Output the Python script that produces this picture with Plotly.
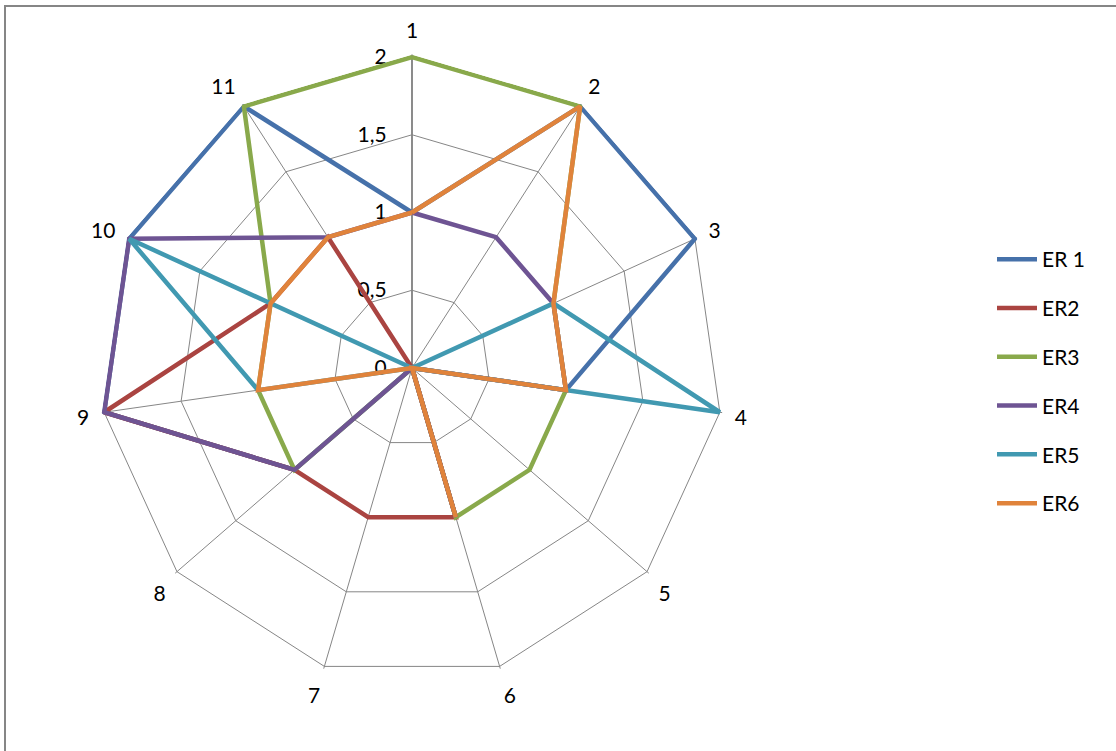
import plotly.graph_objects as go

categories = ["1", "2", "3", "4", "5", "6", "7", "8", "9", "10", "11"]
series_names = ["ER 1", "ER2", "ER3", "ER4", "ER5", "ER6"]
er1 = [1, 2, 2, 1, 0, 1, 0, 1, 2, 2, 2]
er2 = [0, 0, 0, 0, 0, 1, 1, 1, 2, 1, 1]
er3 = [2, 2, 1, 1, 1, 1, 0, 1, 1, 1, 2]
er4 = [1, 1, 1, 1, 0, 1, 0, 1, 2, 2, 1]
er5 = [0, 0, 1, 2, 0, 0, 0, 0, 1, 2, 0]
er6 = [1, 2, 1, 1, 0, 1, 0, 0, 1, 1, 1]
colors = ["#4671AA", "#AA4441", "#89A94B", "#6E5493", "#4199B1", "#E0833B"]
radial_ticks = [0, 0.5, 1, 1.5, 2]
radial_ticktext = ["0", "0,5", "1", "1,5", "2"]
r_max = 2.015

W, H = 1116, 751
cx, cy, R2 = 412, 368, 311
R = R2 * r_max / 2

fig = go.Figure()
for name, vals, col in zip(series_names, [er1, er2, er3, er4, er5, er6], colors):
    fig.add_trace(go.Scatterpolar(
        r=vals + vals[:1],
        theta=categories + categories[:1],
        mode="lines",
        name=name,
        legendgroup=name,
        cliponaxis=False,
        line=dict(color=col, width=4.5),
    ))

font = "Lato, 'Open Sans', sans-serif"
fig.update_layout(
    width=W, height=H,
    margin=dict(l=0, r=0, t=0, b=0),
    paper_bgcolor="white",
    plot_bgcolor="white",
    font=dict(family=font, size=21, color="black"),
    polar=dict(
        domain=dict(x=[(cx - R) / W, (cx + R) / W],
                    y=[(H - cy - R) / H, (H - cy + R) / H]),
        bgcolor="white",
        gridshape="linear",
        radialaxis=dict(
            range=[0, r_max], tickvals=radial_ticks, ticktext=radial_ticktext,
            angle=90, tickangle=90, side="counterclockwise",
            showline=True, linecolor="#868686", linewidth=1.8,
            gridcolor="#868686", gridwidth=1.4,
            ticks="outside", ticklen=17, tickcolor="rgba(0,0,0,0)",
            tickfont=dict(size=21, family=font),
            layer="below traces",
        ),
        angularaxis=dict(
            direction="clockwise", rotation=90,
            showline=False,
            gridcolor="#868686", gridwidth=1.4,
            ticks="outside", ticklen=8, tickcolor="rgba(0,0,0,0)",
            tickfont=dict(size=21, family=font),
            layer="below traces",
        ),
    ),
    legend=dict(
        x=992 / W, y=(H - 239) / H, xanchor="left", yanchor="top",
        font=dict(size=21, family=font),
        tracegroupgap=18.5,
        bgcolor="rgba(0,0,0,0)",
        itemwidth=40,
    ),
    shapes=[dict(type="rect", xref="paper", yref="paper",
                 x0=5 / W, y0=-0.05, x1=1.05, y1=(H - 6) / H,
                 line=dict(color="#868686", width=2), fillcolor="rgba(0,0,0,0)")],
)

fig.write_html("out.html")
